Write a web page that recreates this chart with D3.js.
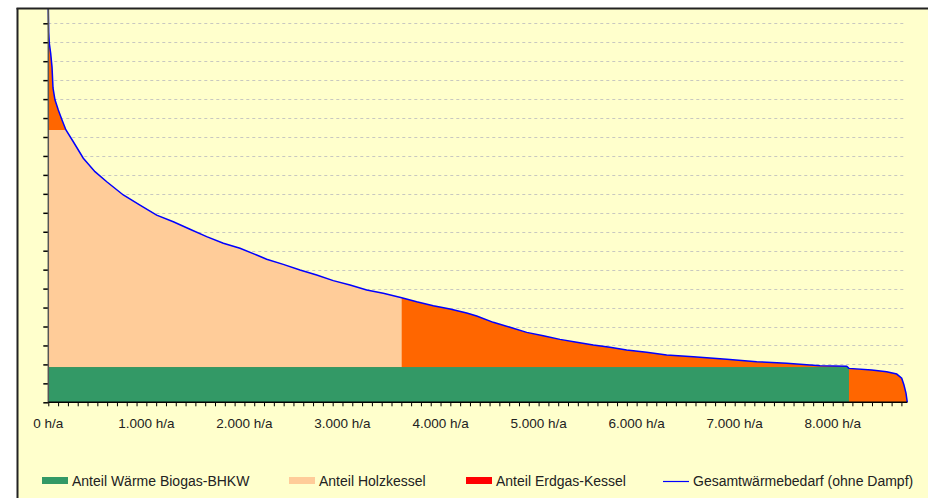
<!DOCTYPE html>
<html><head><meta charset="utf-8">
<script src="https://cdn.jsdelivr.net/npm/d3@7"></script>
<style>
html,body{margin:0;padding:0;background:#fff;}
svg{display:block;font-family:"Liberation Sans",Arial,sans-serif;}
</style></head><body>
<svg id="c" width="928" height="498"></svg>
<script>
// Jahresdauerlinie – Stunden (h/a) und Gesamtwärmebedarf (kW)
const hours  = [0,4,10,24,38,48,68,102,140,180,255,357,476,596,765,935,1105,1275,1445,1615,1785,1955,2125,2227,2396,2567,2737,2906,3077,3247,3416,3604,3757,3926,4097,4267,4369,4538,4709,4879,5048,5218,5389,5558,5728,5898,6102,6306,6578,6918,7224,7530,7870,8142,8165,8397,8550,8652,8703,8726,8747,8760];
const demand = [2081,1954,1896,1843,1769,1659,1596,1543,1490,1437,1375,1288,1217,1164,1094,1041,988,953,913,874,839,813,777,755,728,698,672,642,619,593,575,552,531,510,492,471,455,422,396,369,351,332,317,302,290,276,264,250,241,227,214,206,193,190,179,170,161,149,127,91,47,0];
const bhkwPower = 186;     // Anteil Wärme Biogas-BHKW (kW)
const bhkwHours = 8165;    // Laufzeit BHKW
const holzTop   = 1437;    // Obergrenze Holzkessel (kW, gestapelt)
const holzHours = 3604;    // Laufzeit Holzkessel
const xTicks = [0,1000,2000,3000,4000,5000,6000,7000,8000];
const xTickLabels = ["0 h/a","1.000 h/a","2.000 h/a","3.000 h/a","4.000 h/a","5.000 h/a","6.000 h/a","7.000 h/a","8.000 h/a"];
const legendLabels = ["Anteil Wärme Biogas-BHKW","Anteil Holzkessel","Anteil Erdgas-Kessel","Gesamtwärmebedarf (ohne Dampf)"];

const svg = d3.select("#c");
const x = d3.scaleLinear().domain([0, 8760]).range([48.3, 907.3]);
const y = d3.scaleLinear().domain([0, 2000]).range([402.3, 23.3]);
const pts = hours.map((h,i)=>({h, v: demand[i]}));

// background
svg.append("rect").attr("x",17).attr("y",8).attr("width",911).attr("height",490).attr("fill","#FFFFCC");

// grid
const gridVals = d3.range(100, 2001, 100);
svg.append("g").selectAll("line").data(gridVals).join("line")
  .attr("x1", x(0)).attr("x2", 904)
  .attr("y1", d=>Math.round(y(d))+0.5).attr("y2", d=>Math.round(y(d))+0.5)
  .attr("stroke","#C8C8C0").attr("stroke-width",1).attr("stroke-dasharray","3,3");

// Erdgas area (whole curve)
const area = d3.area().x(d=>x(d.h)).y0(y(0)).y1(d=>y(d.v));
svg.append("path").datum(pts).attr("d", area).attr("fill","#FF6600");

// Holzkessel area
svg.append("clipPath").attr("id","holzClip").append("rect")
  .attr("x", x(0)).attr("y", 0).attr("width", x(holzHours)-x(0)).attr("height", 498);
const holzArea = d3.area().x(d=>x(d.h)).y0(y(bhkwPower)).y1(d=>y(Math.min(d.v, holzTop)));
svg.append("path").datum(pts).attr("d", holzArea).attr("fill","#FFCC99").attr("clip-path","url(#holzClip)");

// BHKW
svg.append("rect").attr("x", x(0)).attr("y", y(bhkwPower))
  .attr("width", x(bhkwHours)-x(0)).attr("height", y(0)-y(bhkwPower)).attr("fill","#339966");

// demand line
const line = d3.line().x(d=>x(d.h)).y(d=>y(d.v));
svg.append("path").datum(pts).attr("d", line).attr("fill","none")
  .attr("stroke","#0000FF").attr("stroke-width",1.5);

// y axis
const yAxis = d3.axisLeft(y).tickValues(d3.range(0,2001,100)).tickSize(5).tickFormat("");
const gy = svg.append("g").attr("transform",`translate(${x(0)},0)`).call(yAxis);
gy.select(".domain").remove();
gy.selectAll(".tick line").attr("stroke","#000").attr("stroke-width",1.5);
svg.append("line").attr("x1",x(0)).attr("x2",x(0)).attr("y1",9).attr("y2",y(0))
  .attr("stroke","#555").attr("stroke-width",1.5);

// x axis
const xAxis = d3.axisBottom(x).tickValues(d3.range(0, 8701, 100)).tickSize(4).tickFormat("");
const gx = svg.append("g").attr("transform",`translate(0,${y(0)})`).call(xAxis);
gx.select(".domain").remove();
gx.selectAll(".tick line").attr("stroke","#000");
svg.append("line").attr("x1",x(0)).attr("x2",x(8760)).attr("y1",y(0)).attr("y2",y(0))
  .attr("stroke","#000").attr("stroke-width",1.5);
svg.append("g").selectAll("text").data(xTicks).join("text")
  .attr("x", d=>x(d)).attr("y", 428).attr("text-anchor","middle")
  .attr("font-size",13.5).attr("fill","#222").text((d,i)=>xTickLabels[i]);

// legend
const lg = svg.append("g").attr("font-size",14).attr("fill","#222");
const sw = [{x:42,c:"#339966"},{x:289,c:"#FFCC99"},{x:466,c:"#FF0000"}];
sw.forEach((s,i)=>{
  lg.append("rect").attr("x",s.x).attr("y",477).attr("width",26).attr("height",7).attr("fill",s.c);
  lg.append("text").attr("x",s.x+30).attr("y",486).text(legendLabels[i]);
});
lg.append("line").attr("x1",663).attr("x2",689).attr("y1",481.5).attr("y2",481.5).attr("stroke","#0000FF").attr("stroke-width",1.2);
lg.append("text").attr("x",693).attr("y",486).text(legendLabels[3]);

// frame
svg.append("line").attr("x1",16.5).attr("x2",928).attr("y1",8.5).attr("y2",8.5).attr("stroke","#222").attr("stroke-width",2);
svg.append("line").attr("x1",17.5).attr("x2",17.5).attr("y1",8).attr("y2",498).attr("stroke","#222").attr("stroke-width",2);
</script>
</body></html>
